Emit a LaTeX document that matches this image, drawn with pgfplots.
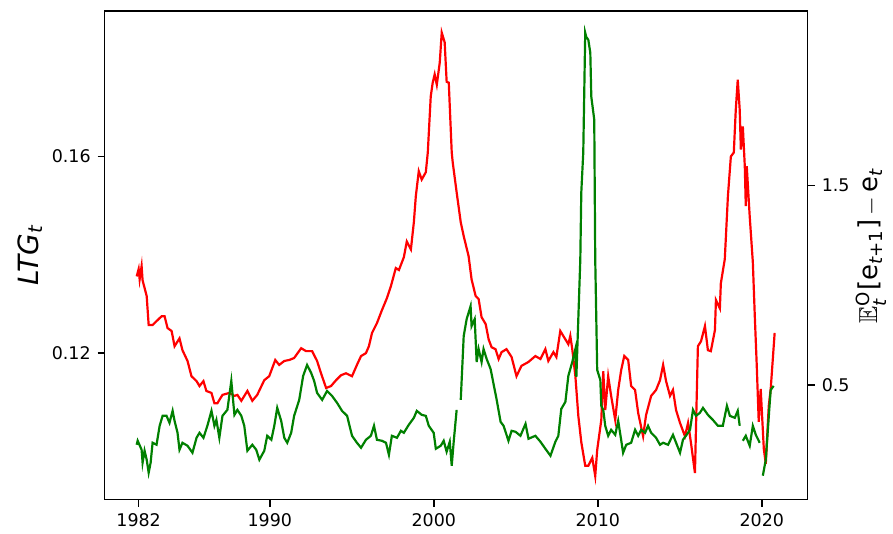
\documentclass[border=0pt]{standalone}
\usepackage{amsmath,amssymb}
\usepackage{fontspec}
\setmainfont{DejaVu Sans}
\usepackage{pgfplots}
\pgfplotsset{compat=1.18}
\definecolor{mplred}{RGB}{255,0,0}
\definecolor{mplgreen}{RGB}{0,128,0}

\pgfplotsset{
  twin/.style={
    scale only axis, width=352.5pt, height=245pt,
    xmin=1979.93, xmax=2022.8,
    tick align=outside, major tick length=3.5pt,
    every tick/.style={black, line width=0.7pt},
    axis line style={line width=0.7pt},
    tick label style={font=\fontsize{8.75}{10}\selectfont},
    /pgf/number format/assume math mode=true,
    /pgf/number format/1000 sep={},
  },
}

\begin{document}
\begin{tikzpicture}
% left axis: LTG
\begin{axis}[twin, name=main,
  ymin=0.0902, ymax=0.1896,
  xtick={1982,1990,2000,2010,2020},
  ytick={0.12,0.16}, yticklabels={0.12,0.16},
  xtick pos=bottom, ytick pos=left,
  ylabel={\textit{LTG\textsubscript{t}}},
  ylabel style={at={(axis description cs:-0.106,0.5)}, anchor=center,
    font=\fontsize{14}{16}\selectfont},
]
\addplot[mplred, line width=1.1pt] coordinates {
(1981.88,0.1356) (1982.00,0.1371) (1982.06,0.1350) (1982.18,0.1377) (1982.24,0.1348)
(1982.49,0.1316) (1982.61,0.1257) (1982.85,0.1257) (1983.09,0.1265) (1983.40,0.1275)
(1983.58,0.1275) (1983.76,0.1251) (1984.01,0.1245) (1984.19,0.1214) (1984.49,0.1230)
(1984.67,0.1206) (1984.98,0.1184) (1985.22,0.1153) (1985.53,0.1143) (1985.71,0.1133)
(1985.95,0.1143) (1986.13,0.1123) (1986.44,0.1119) (1986.62,0.1098) (1986.80,0.1098)
(1987.11,0.1115) (1987.53,0.1119) (1987.84,0.1113) (1988.02,0.1115) (1988.26,0.1103)
(1988.63,0.1123) (1988.93,0.1103) (1989.23,0.1115) (1989.66,0.1145) (1989.96,0.1153)
(1990.33,0.1186) (1990.57,0.1176) (1990.88,0.1184) (1991.18,0.1186) (1991.48,0.1190)
(1991.91,0.1210) (1992.21,0.1204) (1992.58,0.1204) (1992.88,0.1184) (1993.12,0.1159)
(1993.43,0.1129) (1993.73,0.1133) (1994.04,0.1145) (1994.34,0.1155) (1994.64,0.1159)
(1995.01,0.1153) (1995.31,0.1176) (1995.56,0.1194) (1995.86,0.1200) (1996.04,0.1214)
(1996.23,0.1241) (1996.53,0.1261) (1996.83,0.1287) (1997.14,0.1312) (1997.38,0.1336)
(1997.68,0.1373) (1997.87,0.1369) (1998.17,0.1395) (1998.35,0.1427) (1998.60,0.1411)
(1998.78,0.1466) (1998.90,0.1519) (1999.08,0.1570) (1999.26,0.1553) (1999.51,0.1568)
(1999.63,0.1608) (1999.81,0.1722) (1999.93,0.1750) (2000.05,0.1767) (2000.18,0.1746)
(2000.36,0.1791) (2000.48,0.1852) (2000.66,0.1832) (2000.78,0.1752) (2000.91,0.1750)
(2001.09,0.1608) (2001.15,0.1588) (2001.39,0.1527) (2001.64,0.1466) (2001.82,0.1438)
(2002.12,0.1397) (2002.30,0.1350) (2002.55,0.1316) (2002.73,0.1310) (2002.91,0.1273)
(2003.16,0.1259) (2003.34,0.1228) (2003.52,0.1212) (2003.76,0.1208) (2003.95,0.1188)
(2004.13,0.1202) (2004.43,0.1208) (2004.74,0.1192) (2005.04,0.1153) (2005.34,0.1174)
(2005.77,0.1182) (2006.19,0.1194) (2006.50,0.1188) (2006.80,0.1208) (2006.98,0.1184)
(2007.29,0.1202) (2007.47,0.1192) (2007.71,0.1245) (2008.02,0.1228) (2008.20,0.1218)
(2008.32,0.1235) (2008.44,0.1208) (2008.63,0.1153) (2008.81,0.1072) (2008.99,0.1019)
(2009.23,0.0971) (2009.42,0.0971) (2009.66,0.0987) (2009.84,0.0950) (2009.96,0.1003)
(2010.21,0.1064) (2010.33,0.1163) (2010.45,0.1084) (2010.63,0.1153) (2010.81,0.1113)
(2011.06,0.1064) (2011.24,0.1125) (2011.42,0.1165) (2011.61,0.1194) (2011.85,0.1186)
(2012.03,0.1133) (2012.27,0.1125) (2012.46,0.1078) (2012.76,0.1031) (2012.94,0.1074)
(2013.25,0.1113) (2013.55,0.1125) (2013.79,0.1145) (2013.98,0.1176) (2014.16,0.1143)
(2014.40,0.1113) (2014.58,0.1125) (2014.77,0.1084) (2015.01,0.1058) (2015.31,0.1031)
(2015.50,0.1058) (2015.68,0.1017) (2015.92,0.0956) (2016.10,0.1214) (2016.29,0.1224)
(2016.53,0.1255) (2016.71,0.1206) (2016.89,0.1204) (2017.14,0.1247) (2017.20,0.1308)
(2017.44,0.1291) (2017.50,0.1342) (2017.68,0.1379) (2017.74,0.1391) (2017.93,0.1519)
(2018.11,0.1600) (2018.29,0.1608) (2018.41,0.1695) (2018.53,0.1756) (2018.65,0.1695)
(2018.72,0.1614) (2018.84,0.1661) (2018.96,0.1580) (2019.02,0.1499) (2019.08,0.1580)
(2019.26,0.1478) (2019.45,0.1385) (2019.57,0.1275) (2019.69,0.1174) (2019.81,0.1060)
(2019.93,0.1127) (2020.12,0.1005) (2020.24,0.0975) (2020.42,0.1092) (2020.54,0.1127)
(2020.78,0.1241)
};
\end{axis}
% right axis: forecast error
\begin{axis}[twin,
  ymin=-0.075, ymax=2.375,
  axis x line=none, axis y line*=right,
  ytick={0.5,1.5}, yticklabels={0.5,1.5},
  ylabel={$\mathbb{E}_{\textit{t}}^{\text{O}}$[e\textsubscript{\textit{t}+1}]\,$-$\,e\textsubscript{\textit{t}}},
  ylabel style={at={(axis description cs:1.09,0.52)}, anchor=center,
    font=\fontsize{13}{15}\selectfont},
]
\addplot[mplgreen, line width=1.1pt, unbounded coords=jump] coordinates {
(1981.88,0.200) (1981.94,0.220) (1982.18,0.175) (1982.24,0.110) (1982.36,0.170)
(1982.49,0.125) (1982.61,0.060) (1982.73,0.110) (1982.85,0.210) (1983.09,0.200)
(1983.28,0.295) (1983.46,0.345) (1983.70,0.345) (1983.88,0.310) (1984.07,0.370)
(1984.19,0.320) (1984.37,0.260) (1984.49,0.175) (1984.67,0.210) (1984.98,0.195)
(1985.28,0.160) (1985.53,0.235) (1985.71,0.260) (1985.95,0.235) (1986.19,0.295)
(1986.44,0.370) (1986.62,0.295) (1986.74,0.325) (1986.92,0.235) (1987.11,0.345)
(1987.41,0.375) (1987.65,0.520) (1987.84,0.350) (1988.02,0.375) (1988.26,0.345)
(1988.44,0.295) (1988.63,0.170) (1988.93,0.200) (1989.17,0.175) (1989.36,0.125)
(1989.66,0.170) (1989.84,0.245) (1990.09,0.225) (1990.27,0.295) (1990.45,0.385)
(1990.69,0.320) (1990.88,0.235) (1991.06,0.210) (1991.30,0.260) (1991.48,0.345)
(1991.79,0.425) (1992.03,0.545) (1992.27,0.600) (1992.52,0.560) (1992.70,0.520)
(1992.88,0.460) (1993.19,0.425) (1993.49,0.470) (1993.79,0.445) (1994.10,0.410)
(1994.40,0.370) (1994.71,0.345) (1995.01,0.245) (1995.31,0.210) (1995.56,0.185)
(1995.86,0.225) (1996.16,0.245) (1996.35,0.295) (1996.53,0.225) (1996.83,0.220)
(1997.08,0.210) (1997.26,0.150) (1997.44,0.245) (1997.75,0.235) (1997.99,0.270)
(1998.17,0.260) (1998.47,0.300) (1998.78,0.335) (1998.96,0.370) (1999.26,0.350)
(1999.51,0.345) (1999.69,0.295) (1999.99,0.260) (2000.12,0.180) (2000.42,0.195)
(2000.60,0.220) (2000.78,0.165) (2000.97,0.215) (2001.09,0.095) (2001.21,0.215)
(2001.39,0.375) (2001.50,nan) (2001.64,0.425) (2001.82,0.745) (2002.00,0.830)
(2002.24,0.895) (2002.30,0.795) (2002.49,0.830) (2002.61,0.615) (2002.73,0.680)
(2002.91,0.615) (2003.03,0.680) (2003.22,0.630) (2003.46,0.580) (2003.64,0.505)
(2003.82,0.430) (2004.07,0.315) (2004.25,0.295) (2004.55,0.220) (2004.74,0.270)
(2004.98,0.265) (2005.28,0.245) (2005.59,0.305) (2005.77,0.230) (2006.19,0.245)
(2006.50,0.215) (2006.80,0.180) (2007.11,0.145) (2007.41,0.215) (2007.59,0.245)
(2007.77,0.380) (2008.02,0.415) (2008.20,0.545) (2008.44,0.615) (2008.63,0.680)
(2008.69,0.540) (2008.93,1.130) (2008.99,1.465) (2009.11,1.665) (2009.23,2.265)
(2009.29,2.245) (2009.42,2.230) (2009.54,2.165) (2009.60,1.945) (2009.78,1.830)
(2009.84,1.130) (2009.96,0.575) (2010.15,0.525) (2010.21,0.395) (2010.33,0.375)
(2010.45,0.295) (2010.63,0.245) (2010.81,0.275) (2011.06,0.250) (2011.24,0.320)
(2011.42,0.225) (2011.54,0.160) (2011.73,0.200) (2012.03,0.210) (2012.27,0.275)
(2012.46,0.245) (2012.64,0.275) (2012.88,0.260) (2013.06,0.295) (2013.25,0.260)
(2013.55,0.235) (2013.79,0.200) (2013.98,0.210) (2014.28,0.200) (2014.58,0.250)
(2014.77,0.210) (2015.01,0.160) (2015.19,0.225) (2015.37,0.245) (2015.62,0.275)
(2015.80,0.375) (2015.98,0.345) (2016.22,0.360) (2016.41,0.385) (2016.71,0.350)
(2017.01,0.325) (2017.32,0.295) (2017.62,0.295) (2017.87,0.395) (2018.05,0.345)
(2018.35,0.335) (2018.53,0.370) (2018.65,0.295) (2018.75,nan) (2018.84,0.220)
(2019.02,0.245) (2019.26,0.195) (2019.45,0.295) (2019.63,0.250) (2019.87,0.210)
(2019.96,nan) (2020.06,0.045) (2020.24,0.125) (2020.48,0.410) (2020.54,0.475)
(2020.72,0.495)
};
\end{axis}
\path (main.south west) ++(-52.5pt,-13.5pt) rectangle ++(446.5pt,264pt);
\end{tikzpicture}
\end{document}
